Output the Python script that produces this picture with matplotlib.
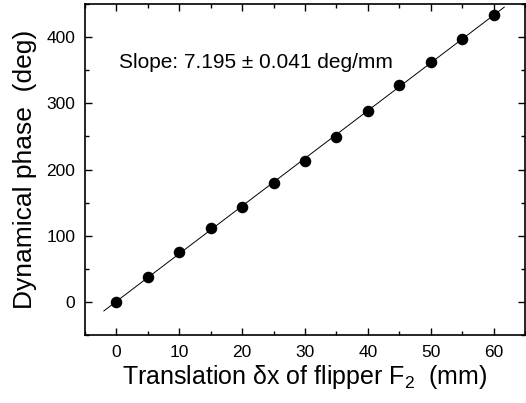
import numpy as np
import matplotlib
matplotlib.use("Agg")
import matplotlib.pyplot as plt
from matplotlib.ticker import MultipleLocator

plt.rcParams['font.family'] = ['Liberation Sans', 'DejaVu Sans']
plt.rcParams['mathtext.default'] = 'regular'

translation_mm = [0, 5, 10, 15, 20, 25, 30, 35, 40, 45, 50, 55, 60]
phase_deg = [0, 38, 75, 112, 144, 179, 213, 249, 289, 327, 363, 397, 434]
slope_text = "Slope: 7.195 \u00b1 0.041 deg/mm"
fit_range = [-2, 61.7]

fig = plt.figure(figsize=(5.26, 4.03), dpi=100)
ax = fig.add_axes([0.1616, 0.1687, 0.8365, 0.8213])

x = np.array(translation_mm, dtype=float)
y = np.array(phase_deg, dtype=float)
coef = np.polyfit(x, y, 1)
xf = np.array(fit_range)
ax.plot(xf, np.polyval(coef, xf), color='black', lw=0.7, zorder=2)
ax.plot(x, y, 'o', color='black', ms=7.3, zorder=3)

ax.set_xlim(-5, 65)
ax.set_ylim(-50, 450)
ax.xaxis.set_major_locator(MultipleLocator(10))
ax.xaxis.set_minor_locator(MultipleLocator(5))
ax.yaxis.set_major_locator(MultipleLocator(100))
ax.yaxis.set_minor_locator(MultipleLocator(50))
ax.tick_params(which='both', direction='in', top=True, right=True, width=1.0, labelsize=12.5)
ax.tick_params(axis='x', pad=7.5)
ax.tick_params(axis='y', pad=7)
ax.tick_params(which='major', length=5)
ax.tick_params(which='minor', length=3)
for s in ax.spines.values():
    s.set_linewidth(1.2)

ax.set_xlabel("Translation \u03b4x of flipper F$_2$  (mm)", fontsize=18, labelpad=2)
ax.set_ylabel("Dynamical phase  (deg)", fontsize=19, labelpad=7)
ax.text(0.4, 362, slope_text, fontsize=15, va='center', ha='left')

fig.savefig("out.png", dpi=100)
